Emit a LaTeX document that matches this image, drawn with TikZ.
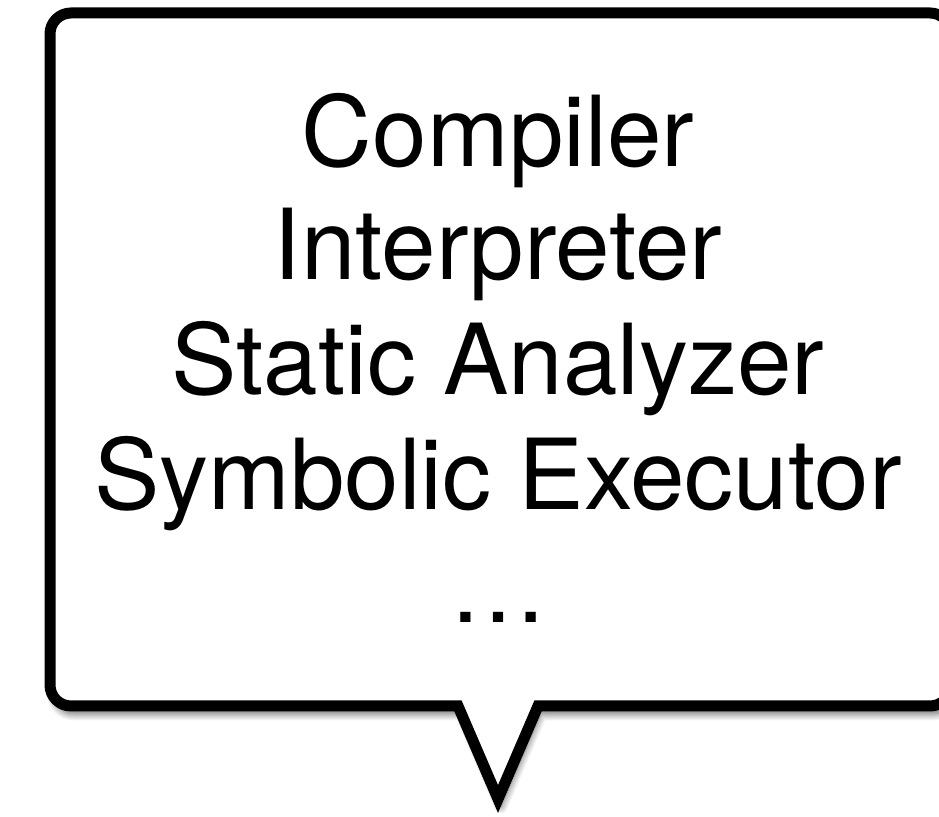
\documentclass[tikz,border=0pt]{standalone}
\usepackage{fontspec}
\setmainfont{TeX Gyre Heros}
\usetikzlibrary{shadows.blur}
\tikzset{
  bubble/.style={draw=black, line width=11pt, line join=miter, fill=white,
    blur shadow={shadow xshift=3pt, shadow yshift=-8pt, shadow blur radius=7pt,
      shadow blur steps=12, shadow opacity=60}},
  line/.style={anchor=base, inner sep=0pt, font=\fontsize{98}{114}\selectfont}
}
\begin{document}
\begin{tikzpicture}[x=1pt,y=1pt]
  \useasboundingbox (0,0) rectangle (939,816);
  \clip (0,0) rectangle (939,816);
  % speech bubble: rounded box with a pointed tail at the bottom
  \path[bubble]
    (458,110) -- (71,110) arc[start angle=-90, end angle=-180, radius=21]
    -- (50,782) arc[start angle=180, end angle=90, radius=21]
    -- (930,803) arc[start angle=90, end angle=0, radius=21]
    -- (951,131) arc[start angle=0, end angle=-90, radius=21]
    -- (538,110) -- (498,17) -- cycle;
  % the lines of text inside the bubble
  \node[line] (l1) at (498,649) {Compiler};
  \node[line] (l2) at (498,536) {Interpreter};
  \node[line] (l3) at (498,421) {Static Analyzer};
  \node[line] (l4) at (498,306) {Symbolic Executor};
  \node[line] (l5) at (498,193) {…};
\end{tikzpicture}
\end{document}
